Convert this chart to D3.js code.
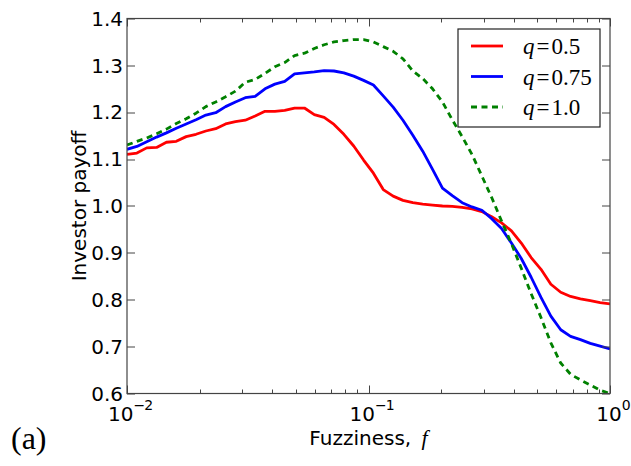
<!DOCTYPE html>
<html lang="en">
<head>
<meta charset="utf-8">
<title>Investor payoff vs fuzziness</title>
<script src="https://cdn.jsdelivr.net/npm/d3@7/dist/d3.min.js"></script>
<style>
    body { margin: 0; background: #fff; }
    svg text { fill: #000; }
</style>
</head>
<body>
<script>
// fuzziness values (log spaced, 50 points from 1e-2 to 1e0)
var fuzz = [0.0100, 0.01099, 0.01207, 0.01326, 0.01456, 0.01600, 0.01758, 0.01931, 0.02121, 0.02330,
            0.02560, 0.02812, 0.03089, 0.03393, 0.03728, 0.04095, 0.04498, 0.04942, 0.05429, 0.05964,
            0.06551, 0.07197, 0.07906, 0.08685, 0.09541, 0.1048, 0.1151, 0.1265, 0.1389, 0.1526,
            0.1677, 0.1842, 0.2024, 0.2223, 0.2442, 0.2683, 0.2947, 0.3237, 0.3556, 0.3907,
            0.4292, 0.4715, 0.5179, 0.5690, 0.6251, 0.6866, 0.7543, 0.8286, 0.9103, 1.0];

// investor payoff, one array per q
var payoffQ05 = [1.110, 1.113, 1.124, 1.125, 1.136, 1.138, 1.148, 1.153, 1.160, 1.165,
                 1.175, 1.180, 1.183, 1.192, 1.202, 1.202, 1.204, 1.209, 1.209, 1.195,
                 1.189, 1.174, 1.153, 1.128, 1.098, 1.070, 1.035, 1.021, 1.012, 1.007,
                 1.004, 1.002, 1.000, 0.999, 0.997, 0.994, 0.988, 0.977, 0.964, 0.947,
                 0.921, 0.890, 0.865, 0.833, 0.816, 0.807, 0.802, 0.798, 0.794, 0.791];
var payoffQ075 = [1.121, 1.127, 1.137, 1.147, 1.156, 1.166, 1.175, 1.184, 1.194, 1.199,
                  1.212, 1.222, 1.231, 1.234, 1.250, 1.260, 1.266, 1.282, 1.284, 1.286,
                  1.289, 1.288, 1.284, 1.277, 1.268, 1.258, 1.235, 1.211, 1.183, 1.151,
                  1.117, 1.078, 1.038, 1.022, 1.007, 0.998, 0.991, 0.973, 0.952, 0.921,
                  0.888, 0.848, 0.805, 0.765, 0.736, 0.722, 0.715, 0.707, 0.701, 0.695];
var payoffQ10 = [1.130, 1.138, 1.145, 1.154, 1.164, 1.176, 1.186, 1.198, 1.212, 1.222,
                 1.233, 1.245, 1.264, 1.270, 1.283, 1.297, 1.306, 1.321, 1.326, 1.336,
                 1.344, 1.350, 1.353, 1.355, 1.355, 1.350, 1.340, 1.330, 1.314, 1.288,
                 1.272, 1.250, 1.222, 1.184, 1.148, 1.110, 1.064, 1.018, 0.968, 0.920,
                 0.867, 0.813, 0.762, 0.708, 0.665, 0.641, 0.629, 0.618, 0.607, 0.600];

var seriesNames = ["0.5", "0.75", "1.0"];
var yTicks = [0.6, 0.7, 0.8, 0.9, 1.0, 1.1, 1.2, 1.3, 1.4];
var xTicks = [0.01, 0.1, 1];
var xTickExp = ["\u22122", "\u22121", "0"];

var W = 631, H = 466;
var margin = {top: 18.5, right: 21, bottom: 72.5, left: 127};
var w = W - margin.left - margin.right,
    h = H - margin.top - margin.bottom;

var svg = d3.select("body").append("svg")
    .attr("width", W).attr("height", H);

var x = d3.scaleLog().domain([0.01, 1]).range([0, w]);
var y = d3.scaleLinear().domain([0.6, 1.4]).range([h, 0]);

var g = svg.append("g")
    .attr("transform", "translate(" + margin.left + "," + margin.top + ")");

// curves
var series = [
    {vals: payoffQ05, color: "#ff0000", dash: null},
    {vals: payoffQ075, color: "#0000ff", dash: null},
    {vals: payoffQ10, color: "#008000", dash: "6,4.5"}
];

var line = d3.line()
    .x(function(d) { return x(d[0]); })
    .y(function(d) { return y(d[1]); });

g.append("clipPath").attr("id", "clip")
    .append("rect").attr("width", w).attr("height", h);

series.forEach(function(s) {
    g.append("path")
        .datum(fuzz.map(function(f, i) { return [f, s.vals[i]]; }))
        .attr("d", line)
        .attr("fill", "none")
        .attr("stroke", s.color)
        .attr("stroke-width", 2.8)
        .attr("stroke-linejoin", "round")
        .attr("stroke-dasharray", s.dash)
        .attr("clip-path", "url(#clip)");
});

// ticks (matplotlib style: inside, on all four sides)
var minor = [];
[0.01, 0.1].forEach(function(dec) {
    for (var k = 2; k <= 9; k++) minor.push(dec * k);
});

var tickColor = "#444";
var ticks = g.append("g").attr("stroke", tickColor).attr("stroke-width", 1);
xTicks.forEach(function(t) {
    var px = Math.round(x(t)) + 0.5;
    ticks.append("line").attr("x1", px).attr("x2", px).attr("y1", h).attr("y2", h - 8);
    ticks.append("line").attr("x1", px).attr("x2", px).attr("y1", 0).attr("y2", 8);
});
minor.forEach(function(t) {
    var px = Math.round(x(t)) + 0.5;
    ticks.append("line").attr("x1", px).attr("x2", px).attr("y1", h).attr("y2", h - 4);
    ticks.append("line").attr("x1", px).attr("x2", px).attr("y1", 0).attr("y2", 4);
});
yTicks.forEach(function(t) {
    var py = Math.round(y(t)) + 0.5;
    ticks.append("line").attr("x1", 0).attr("x2", 8).attr("y1", py).attr("y2", py);
    ticks.append("line").attr("x1", w).attr("x2", w - 8).attr("y1", py).attr("y2", py);
});

// frame
g.append("rect")
    .attr("x", 0).attr("y", 0).attr("width", w).attr("height", h)
    .attr("fill", "none").attr("stroke", tickColor).attr("stroke-width", 1.2);

// y tick labels
g.selectAll("text.ylab").data(yTicks).enter().append("text")
    .attr("class", "ylab")
    .attr("x", -4)
    .attr("y", function(d) { return y(d); })
    .attr("dy", "0.36em")
    .attr("text-anchor", "end")
    .style("font-family", "DejaVu Sans")
    .style("font-size", "20px")
    .text(function(d) { return d.toFixed(1); });

// x tick labels 10^n
xTicks.forEach(function(t, i) {
    var tx = g.append("text")
        .attr("x", x(t) + 3)
        .attr("y", h + 27)
        .attr("text-anchor", "middle")
        .style("font-family", "DejaVu Sans")
        .style("font-size", "20px");
    tx.append("tspan").text("10");
    tx.append("tspan").attr("dy", -11).style("font-size", "14px")
        .style("letter-spacing", "-1px").text(xTickExp[i]);
});

// axis labels
var xl = svg.append("text")
    .attr("x", margin.left + w / 2)
    .attr("y", 445)
    .attr("text-anchor", "middle")
    .style("font-family", "DejaVu Sans")
    .style("font-size", "20px");
xl.append("tspan").text("Fuzziness, ");
xl.append("tspan").attr("dx", 4).style("font-family", "Liberation Serif").style("font-style", "italic")
    .style("font-size", "22px").text("f");

svg.append("text")
    .attr("transform", "translate(86," + (margin.top + h / 2) + ") rotate(-90)")
    .attr("text-anchor", "middle")
    .style("font-family", "DejaVu Sans")
    .style("font-size", "20px")
    .text("Investor payoff");

svg.append("text")
    .attr("x", 11).attr("y", 449)
    .style("font-family", "Liberation Serif")
    .style("font-size", "32px")
    .text("(a)");

// legend
var leg = svg.append("g").attr("transform", "translate(458,29)");
leg.append("rect")
    .attr("width", 142).attr("height", 98)
    .attr("fill", "#fff").attr("stroke", "#222").attr("stroke-width", 1.2);
series.forEach(function(s, i) {
    var ly = 17 + i * 30.5;
    leg.append("line")
        .attr("x1", 13).attr("x2", 45).attr("y1", ly).attr("y2", ly)
        .attr("stroke", s.color).attr("stroke-width", 2.8)
        .attr("stroke-dasharray", s.dash);
    var t = leg.append("text")
        .attr("x", 65).attr("y", ly + 8)
        .style("font-family", "Liberation Serif")
        .style("font-size", "23px");
    t.append("tspan").style("font-style", "italic").text("q");
    t.append("tspan").attr("dx", 2).text("=");
    t.append("tspan").attr("dx", 2).text(seriesNames[i]);
});
</script>
</body>
</html>
